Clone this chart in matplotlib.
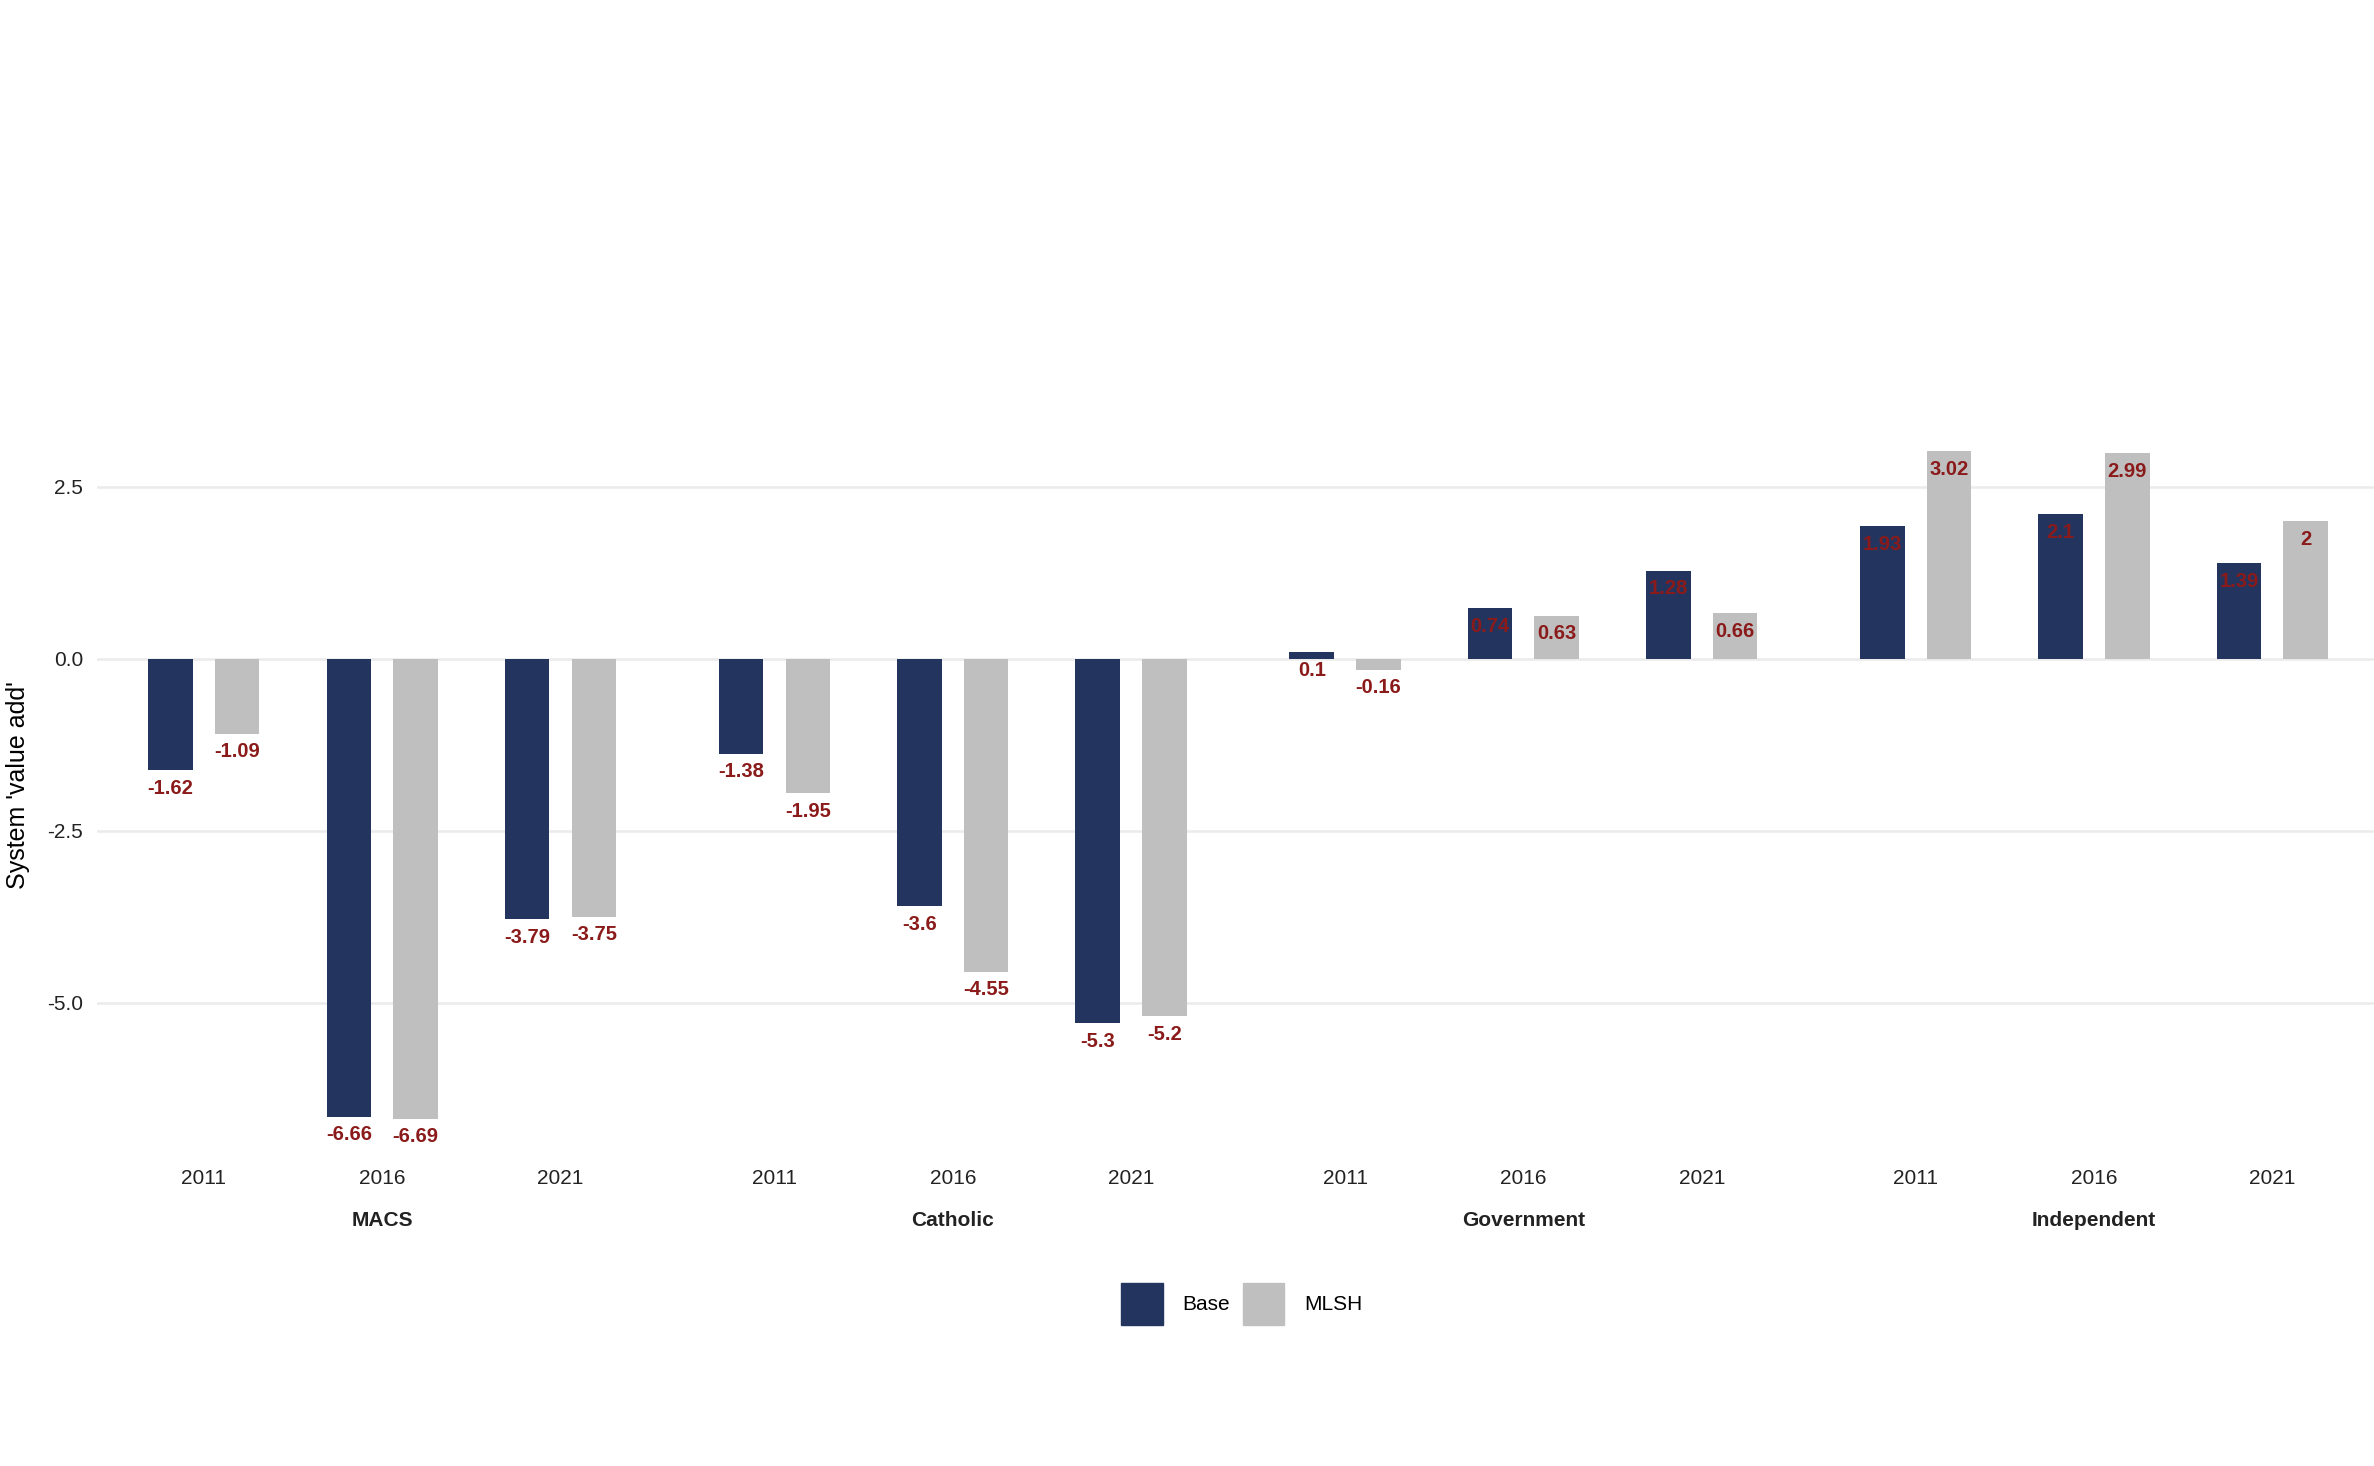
import matplotlib.pyplot as plt
import numpy as np
from matplotlib.patches import Patch
import matplotlib.transforms as mtransforms

plt.rcParams['font.family'] = ['Liberation Sans', 'DejaVu Sans']

# data
groups = ['MACS', 'Catholic', 'Government', 'Independent']
years = ['2011', '2016', '2021']
base = [-1.62, -6.66, -3.79,
        -1.38, -3.6, -5.3,
        0.1, 0.74, 1.28,
        1.93, 2.1, 1.39]
mlsh = [-1.09, -6.69, -3.75,
        -1.95, -4.55, -5.2,
        -0.16, 0.63, 0.66,
        3.02, 2.99, 2.0]

c_base = '#23355e'
c_mlsh = '#bfbfbf'
c_lab = '#8b1a1a'

fig = plt.figure(figsize=(23.74, 14.66), dpi=100)
ax = fig.add_axes([0.0408, 0.214, 0.9592, 0.501])

# x positions: each facet is 3 categories + 0.6 padding each side
xs = []
for g in range(len(groups)):
    for j in range(len(years)):
        xs.append(g * 3.2 + j)
xs = np.array(xs)

off = 0.187
w = 0.25
ax.bar(xs - off, base, width=w, color=c_base, zorder=2)
ax.bar(xs + off, mlsh, width=w, color=c_mlsh, zorder=2)

for x, b, m in zip(xs, base, mlsh):
    ax.annotate(f'{b:g}', (x - off, b), xytext=(0, -13), textcoords='offset points',
                ha='center', va='center', color=c_lab, fontsize=14.5, fontweight='bold', zorder=3)
    ax.annotate(f'{m:g}', (x + off, m), xytext=(0, -13), textcoords='offset points',
                ha='center', va='center', color=c_lab, fontsize=14.5, fontweight='bold', zorder=3)

ax.set_xlim(-0.6, 12.17)
ax.set_ylim(-7.175, 3.505)
ax.set_yticks([-5.0, -2.5, 0.0, 2.5])
ax.set_yticklabels(['-5.0', '-2.5', '0.0', '2.5'], fontsize=15, color='#222222')
ax.yaxis.grid(True, color='#ebebeb', lw=1.8, zorder=0)
ax.set_axisbelow(True)
ax.tick_params(axis='y', length=0, pad=10)
ax.tick_params(axis='x', length=0, pad=12)
ax.set_xticks(xs)
ax.set_xticklabels(years * len(groups), fontsize=15, color='#222222')
for s in ax.spines.values():
    s.set_visible(False)

ax.set_ylabel("System 'value add'", fontsize=18, labelpad=12)

trans = mtransforms.blended_transform_factory(ax.transData, ax.transAxes)
for g, name in enumerate(groups):
    ax.annotate(name, (g * 3.2 + 1, 0), xycoords=trans, xytext=(0, -49),
                textcoords='offset points', ha='center', va='center',
                fontsize=15, fontweight='bold', color='#222222')

handles = [Patch(color=c_base, label='Base'), Patch(color=c_mlsh, label='MLSH')]
fig.legend(handles=handles, loc='center', bbox_to_anchor=(0.523, 0.1105), ncol=2,
           frameon=False, fontsize=15, handlelength=2.0, handleheight=2.7,
           handletextpad=0.95, columnspacing=0.6)

fig.savefig('out.png', dpi=100)
